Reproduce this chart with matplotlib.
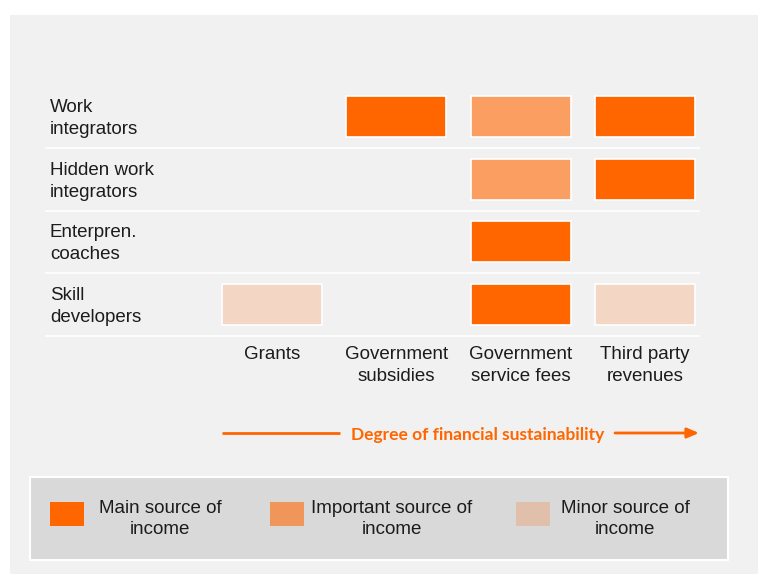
import matplotlib.pyplot as plt
from matplotlib.patches import Rectangle

plt.rcParams['font.family'] = ['Liberation Sans', 'DejaVu Sans']

# income sources (columns) and organisation types (rows)
sources = ['Grants', 'Government\nsubsidies', 'Government\nservice fees', 'Third party\nrevenues']
org_types = ['Work\nintegrators', 'Hidden work\nintegrators', 'Enterpren.\ncoaches', 'Skill\ndevelopers']

# 0 = not a source, 1 = minor, 2 = important, 3 = main source of income
levels = [
    [0, 3, 2, 3],
    [0, 0, 2, 3],
    [0, 0, 3, 0],
    [1, 0, 3, 1],
]
level_names = ['Main source of\nincome', 'Important source of\nincome', 'Minor source of\nincome']
cell_colors = {3: '#ff6600', 2: '#fa9e62', 1: '#f4d6c4'}
key_colors = ['#ff6600', '#f0965a', '#e0c0aa']
axis_title = 'Degree of financial sustainability'

ORANGE = '#ff6600'
TXT = '#1c1c1c'
FS = 13.5
LS = 1.38
W, H = 758, 574

fig = plt.figure(figsize=(W / 100, H / 100), dpi=100)

# background layer in pixel units
bg = fig.add_axes([0, 0, 1, 1])
bg.set_xlim(0, W)
bg.set_ylim(H, 0)
bg.axis('off')
bg.add_patch(Rectangle((10, 15), W - 10, H - 15, facecolor='#f1f1f1', edgecolor='none'))

# matrix of income sources
ax = fig.add_axes([45 / W, 1 - 343 / H, 655 / W, 264 / H])
ax.set_xlim(-1.826, 3.443)
ax.set_ylim(3.612, -0.598)
ax.axis('off')
ax.patch.set_alpha(0)

cell_w, cell_h = 0.805, 0.654
for i, row in enumerate(levels):
    for j, lv in enumerate(row):
        if lv > 0:
            ax.bar(j, cell_h, bottom=i - cell_h / 2, width=cell_w,
                   color=cell_colors[lv], edgecolor='white', linewidth=1.2, zorder=3)
    ax.axhline(i + 0.5, color='white', linewidth=1.2, zorder=2)
    ax.text(-1.786, i + 0.03, org_types[i], ha='left', va='center', fontsize=FS,
            color=TXT, linespacing=LS, family='Liberation Sans')

for j, name in enumerate(sources):
    ax.text(j, 3.66, name, ha='center', va='top', fontsize=FS,
            color=TXT, linespacing=LS, family='Liberation Sans')

# sustainability arrow
bg.plot([222, 340], [433, 433], color=ORANGE, linewidth=2, solid_capstyle='butt')
bg.annotate('', xy=(699, 433), xytext=(615, 433),
            arrowprops=dict(arrowstyle='-|>,head_length=0.7,head_width=0.3',
                            color=ORANGE, linewidth=2, shrinkA=0, shrinkB=0))
bg.text(478, 435, axis_title, ha='center', va='center', fontsize=12.5,
        fontweight='bold', color=ORANGE, family=['Lato', 'DejaVu Sans'])

# key box
bg.add_patch(Rectangle((30, 477), 698, 83, facecolor='#d9d9d9', edgecolor='white', linewidth=1.5))
key_x = [50, 270, 516]
text_x = [160, 392, 625]
for kx, tx, c, name in zip(key_x, text_x, key_colors, level_names):
    bg.add_patch(Rectangle((kx, 502), 34, 24, facecolor=c, edgecolor='none'))
    bg.text(tx, 519, name, ha='center', va='center', fontsize=FS,
            color=TXT, linespacing=LS, family='Liberation Sans')

fig.savefig('out.png', dpi=100, facecolor='white')
